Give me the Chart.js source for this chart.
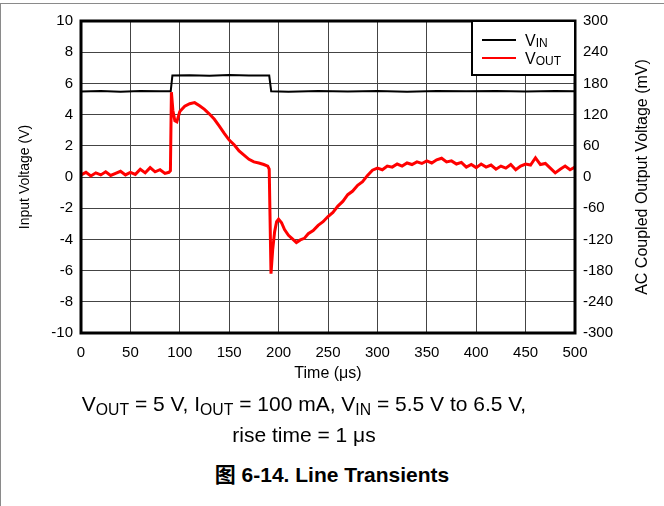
<!DOCTYPE html>
<html>
<head>
<meta charset="utf-8">
<script src="https://cdn.jsdelivr.net/npm/chart.js@4.4.1/dist/chart.umd.min.js"></script>
<style>
  html, body { margin: 0; padding: 0; background: #fff; }
  #page {
    position: relative; width: 664px; height: 506px; overflow: hidden;
    font-family: "Liberation Sans", Arial, "Noto Sans CJK SC", sans-serif;
  }
  .frame {
    position: absolute; left: 0; top: 3px; width: 670px; height: 510px;
    border-top: 1px solid #8a8a8a; border-left: 1px solid #8a8a8a;
  }
  #chart { position: absolute; left: 0; top: 0; }
  .cond {
    position: absolute; left: 0; width: 608px; top: 388px;
    text-align: center; font-size: 21px; line-height: 31px; color: #000;
  }
  .cond sub { font-size: 75%; vertical-align: -0.25em; line-height: 0; }
  .cap {
    position: absolute; left: 0; width: 664px; top: 463px;
    text-align: center; font-size: 21px; line-height: 24px; font-weight: bold; color: #000;
  }
</style>
</head>
<body>
<div id="page">
  <div class="frame"></div>
  <canvas id="chart" width="664" height="390"></canvas>
  <div class="cond">V<sub>OUT</sub> = 5 V, I<sub>OUT</sub> = 100 mA, V<sub>IN</sub> = 5.5 V to 6.5 V,<br>rise time = 1 μs</div>
  <div class="cap">图 6-14. Line Transients</div>
</div>
<script>
// input step, volts
const vinTime = [0, 20, 40, 60, 80, 90.8, 92.5, 110, 130, 150, 170, 190.5, 192.5, 210, 240, 270, 300, 330, 360, 390, 420, 450, 480, 500];
const vinV    = [5.48, 5.52, 5.47, 5.51, 5.49, 5.5, 6.5, 6.53, 6.49, 6.54, 6.51, 6.5, 5.5, 5.47, 5.52, 5.48, 5.51, 5.47, 5.52, 5.49, 5.52, 5.48, 5.51, 5.49];

// AC coupled output, mV
const voutTime = [0, 5, 10, 15, 20, 25, 30, 35, 40, 45, 50, 55, 60, 65, 70, 75, 80, 85, 89,
  90.5, 91.5, 93, 95, 97, 100, 105, 110, 115, 120, 125, 130, 135, 140, 145, 150, 155, 160, 165, 170, 175, 180, 185, 189,
  190.5, 192.3, 194, 196, 198, 200, 203, 206, 210, 214, 218, 222, 226, 230, 235, 240, 245, 250, 255, 260, 265, 270, 275, 280, 285, 290, 295, 300,
  305, 310, 315, 320, 325, 330, 335, 340, 345, 350, 355, 360, 365, 370, 375, 380, 385, 390, 395, 400,
  405, 410, 415, 420, 425, 430, 435, 440, 445, 450, 455, 460, 465, 470, 475, 480, 485, 490, 495, 500];
const voutMv = [4, 9, 2, 8, 4, 10, 3, 7, 11, 4, 9, 5, 15, 8, 18, 10, 14, 7, 9,
  12, 163, 128, 108, 106, 126, 136, 141, 143, 137, 130, 121, 111, 98, 84, 71, 62, 50, 42, 34, 29, 27, 24, 21,
  15, -186, -140, -105, -86, -81, -88, -101, -112, -119, -126, -121, -118, -109, -103, -93, -86, -76, -68, -56, -47, -34, -27, -16, -9, 3, 13, 17,
  14, 21, 19, 25, 21, 27, 24, 29, 26, 31, 27, 33, 36, 29, 31, 25, 28, 19, 24, 18,
  25, 19, 23, 15, 21, 17, 24, 14, 21, 25, 23, 37, 24, 26, 17, 8, 15, 21, 14, 19];

const FONT = '"Liberation Sans", Arial, sans-serif';

const framePlugin = {
  id: 'frameLegend',
  afterDatasetsDraw(chart) {
    const { ctx, chartArea: a } = chart;
    ctx.save();
    // plot frame
    ctx.strokeStyle = '#000';
    ctx.lineWidth = 3;
    ctx.strokeRect(a.left, a.top, a.right - a.left, a.bottom - a.top);
    // legend box
    const bx = 472, by = a.top, bw = a.right - 472, bh = 54;
    ctx.fillStyle = '#fff';
    ctx.fillRect(bx, by, bw, bh);
    ctx.lineWidth = 2;
    ctx.strokeRect(bx, by, bw, bh);
    const rows = [
      { color: '#000', sub: 'IN', y: 40 },
      { color: '#ff0000', sub: 'OUT', y: 58 }
    ];
    rows.forEach(r => {
      ctx.strokeStyle = r.color;
      ctx.lineWidth = 2;
      ctx.beginPath();
      ctx.moveTo(482, r.y);
      ctx.lineTo(516, r.y);
      ctx.stroke();
      ctx.fillStyle = '#000';
      ctx.textBaseline = 'alphabetic';
      ctx.font = '16px ' + FONT;
      ctx.fillText('V', 525, r.y + 6);
      const w = ctx.measureText('V').width;
      ctx.font = '12px ' + FONT;
      ctx.fillText(r.sub, 525 + w, r.y + 7);
    });
    // right axis title reads bottom to top
    ctx.translate(643, (a.top + a.bottom) / 2);
    ctx.rotate(-Math.PI / 2);
    ctx.font = '16px ' + FONT;
    ctx.textAlign = 'center';
    ctx.textBaseline = 'middle';
    ctx.fillText('AC Coupled Output Voltage (mV)', 0, 0);
    ctx.restore();
  }
};

const tickFont = { family: FONT, size: 15 };

new Chart(document.getElementById('chart'), {
  type: 'line',
  data: {
    datasets: [
      {
        label: 'VOUT',
        data: voutTime.map((t, i) => ({ x: t, y: voutMv[i] })),
        borderColor: '#ff0000',
        borderWidth: 3,
        yAxisID: 'y2'
      },
      {
        label: 'VIN',
        data: vinTime.map((t, i) => ({ x: t, y: vinV[i] })),
        borderColor: '#000',
        borderWidth: 2,
        yAxisID: 'y'
      }
    ]
  },
  options: {
    responsive: false,
    animation: false,
    events: [],
    layout: { padding: { top: 21, left: 0, right: 0, bottom: 0 } },
    elements: { point: { radius: 0 }, line: { tension: 0 } },
    plugins: { legend: { display: false }, tooltip: { enabled: false } },
    scales: {
      x: {
        type: 'linear', min: 0, max: 500,
        afterFit: s => { s.height = 57; },
        ticks: { stepSize: 50, color: '#000', font: tickFont, padding: 11, maxRotation: 0 },
        grid: { color: '#444', lineWidth: 1, drawTicks: false },
        border: { display: false },
        title: { display: true, text: 'Time (μs)', color: '#000', font: { family: FONT, size: 16 }, padding: { top: 0, bottom: 7 } }
      },
      y: {
        position: 'left', min: -10, max: 10,
        afterFit: s => { s.width = 81; },
        ticks: { stepSize: 2, color: '#000', font: tickFont, padding: 8 },
        grid: { color: '#444', lineWidth: 1, drawTicks: false },
        border: { display: false },
        title: { display: true, text: 'Input Voltage (V)', color: '#000', font: { family: FONT, size: 14 }, padding: { top: 17, bottom: 0 } }
      },
      y2: {
        position: 'right', min: -300, max: 300,
        afterFit: s => { s.width = 89; },
        ticks: { stepSize: 60, color: '#000', font: tickFont, padding: 8 },
        grid: { drawOnChartArea: false, drawTicks: false },
        border: { display: false },
        title: { display: false }
      }
    }
  },
  plugins: [framePlugin]
});
</script>
</body>
</html>
